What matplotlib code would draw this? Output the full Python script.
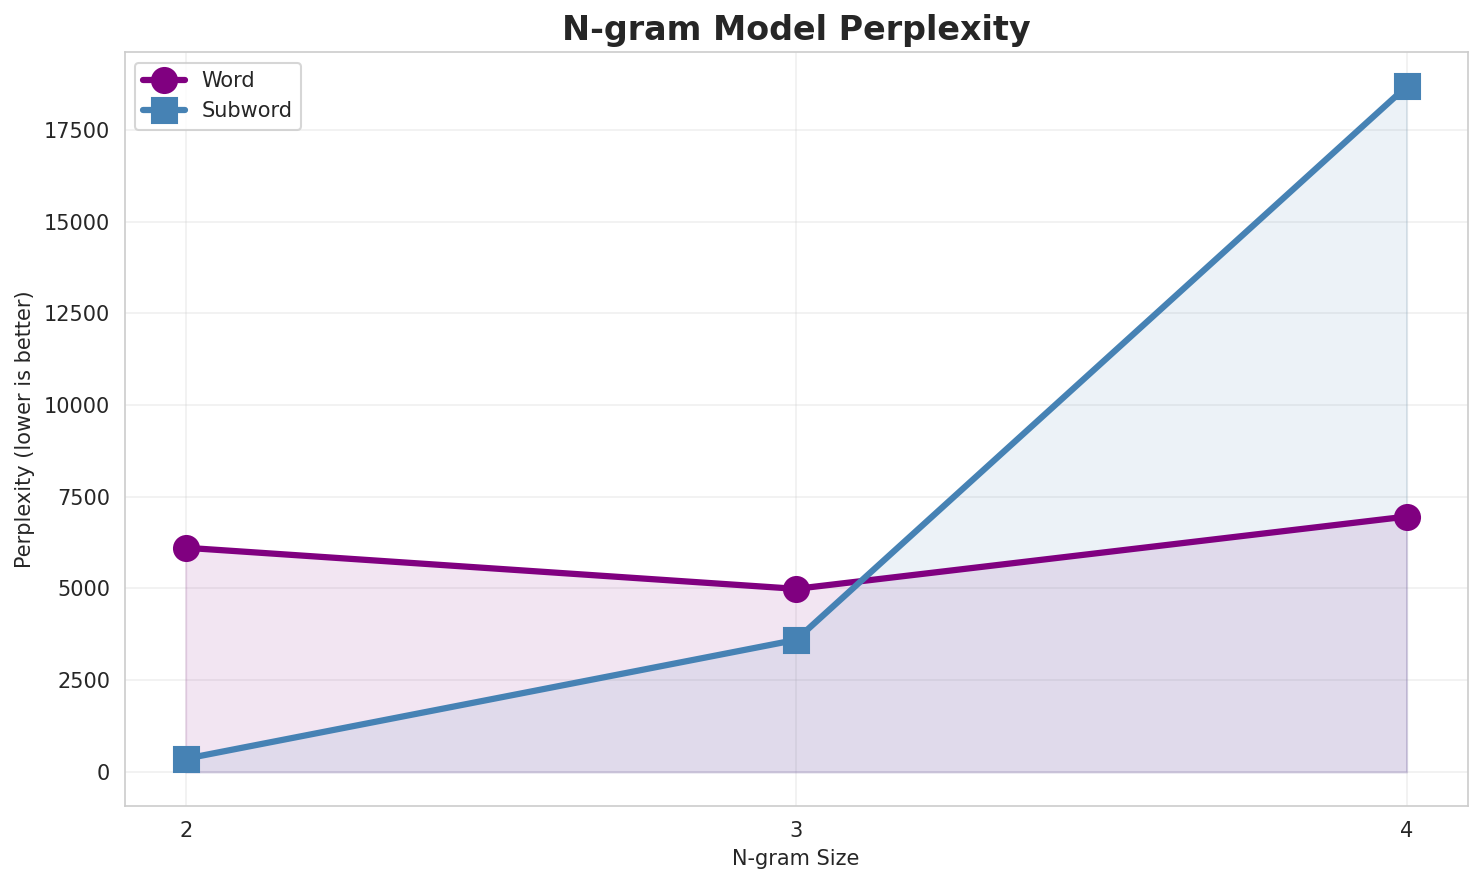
import matplotlib
matplotlib.use("Agg")
import matplotlib.pyplot as plt
import seaborn as sns

# n-gram sizes and perplexity values
ngram_sizes = [2, 3, 4]
word_ppl = [6110, 4990, 6960]
subword_ppl = [360, 3600, 18680]

sns.set_style("whitegrid")

fig, ax = plt.subplots(figsize=(9.893, 5.9), dpi=150)

ax.plot(ngram_sizes, word_ppl, marker="o", color="purple", linewidth=3,
        markersize=12, label="Word")
ax.fill_between(ngram_sizes, word_ppl, color="purple", alpha=0.1)

ax.plot(ngram_sizes, subword_ppl, marker="s", color="steelblue", linewidth=3,
        markersize=12, label="Subword")
ax.fill_between(ngram_sizes, subword_ppl, color="steelblue", alpha=0.1)

ax.set_title("N-gram Model Perplexity", fontsize=16, fontweight="bold")
ax.set_xlabel("N-gram Size", fontsize=10)
ax.set_ylabel("Perplexity (lower is better)", fontsize=10)
ax.set_xticks(ngram_sizes)
ax.tick_params(labelsize=10)
ax.grid(True, alpha=0.3)
ax.legend(loc="upper left", fontsize=10)

fig.subplots_adjust(left=0.084, right=0.989, top=0.941, bottom=0.089)
plt.savefig("out.png", dpi=150)
